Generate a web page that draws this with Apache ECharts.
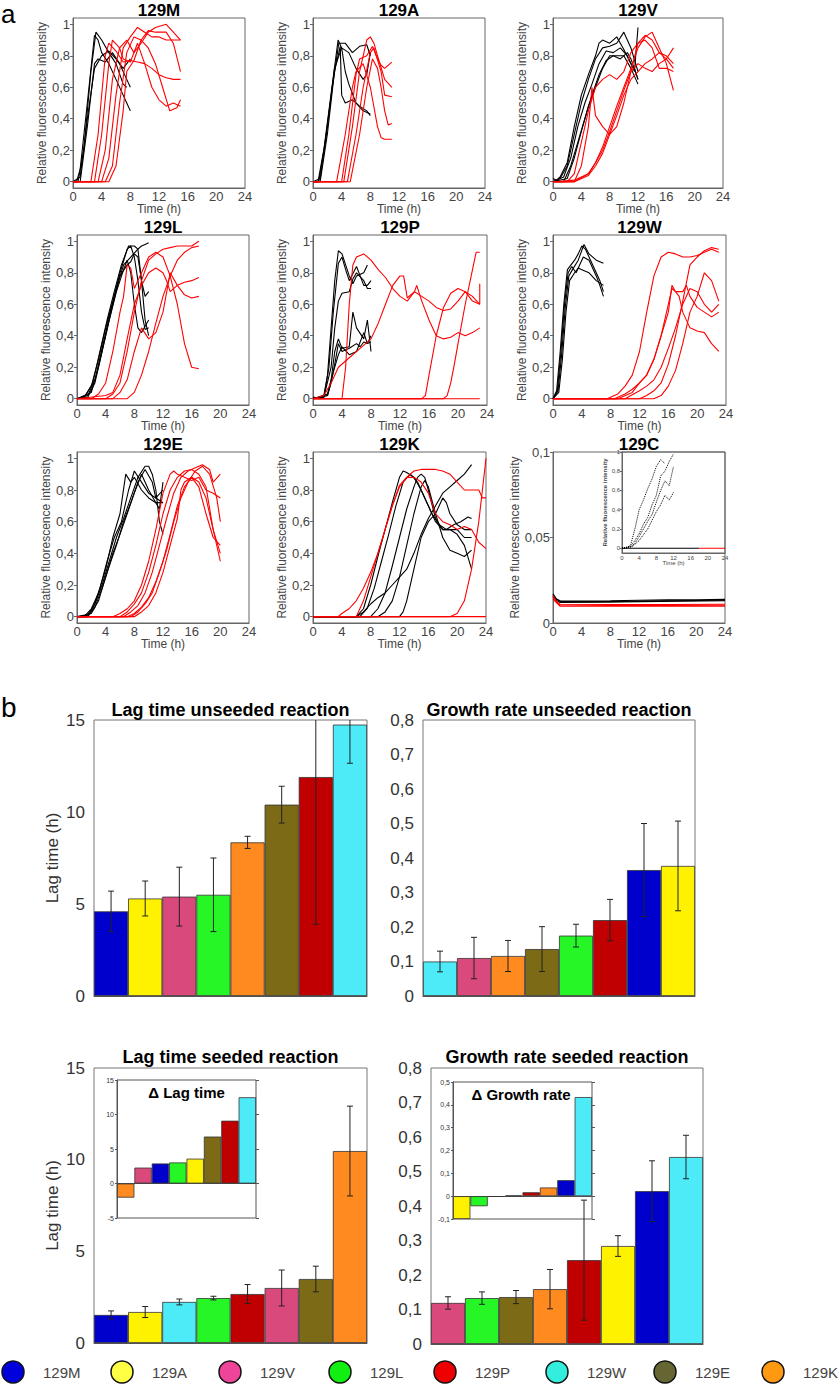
<!DOCTYPE html>
<html><head><meta charset="utf-8">
<script src="https://cdn.jsdelivr.net/npm/echarts@6/dist/echarts.min.js"></script>
<style>html,body{margin:0;padding:0;background:#fff}#c{width:840px;height:1385px}</style>
</head><body><div id="c"></div>
<script>
// ---------------- DATA: part a (time h, relative fluorescence) ----------------
const curves129M_black = [
 [[0,0],[0.5,0],[1,0.08],[2,0.5],[3,0.93],[3.5,0.9],[4,0.82],[5,0.75],[6,0.65],[7,0.55],[7.5,0.5],[8,0.45]],
 [[0,0],[0.7,0],[1.5,0.2],[2.5,0.7],[3.2,0.95],[4,0.9],[5,0.82],[6,0.75],[7,0.62],[7.5,0.6]],
 [[0,0],[1,0],[2,0.35],[3,0.75],[3.5,0.78],[4.5,0.76],[5.5,0.82],[6.5,0.75],[7.5,0.65],[8,0.6]],
 [[0,0],[1,0.03],[2,0.4],[3,0.72],[4,0.8],[5,0.83],[6,0.78],[7,0.72],[8,0.78]]
];
const curves129M_red = [
 [[0,0],[2.5,0],[3.5,0.3],[4.5,0.8],[5,0.88],[6,0.83],[7,0.76],[8,0.77],[9,0.76],[10,0.75],[11,0.72],[12,0.68],[13,0.66],[14,0.65],[15,0.65]],
 [[0,0],[3,0],[4,0.3],[5,0.75],[5.5,0.9],[6.5,0.85],[7,0.78],[8,0.76],[9,0.88],[10,0.75],[11,0.6],[12,0.52],[13,0.48],[14,0.5],[15,0.48]],
 [[0,0],[3.5,0],[4.5,0.2],[5.5,0.65],[6.5,0.85],[7.5,0.9],[8.5,0.82],[9.5,0.88],[10.5,0.95],[11.5,0.98],[13,1.0],[14,0.95],[15,0.9]],
 [[0,0],[4,0],[5,0.15],[6,0.55],[7,0.85],[8,0.92],[9,0.98],[10,0.95],[11,0.92],[12,0.92],[13,0.9],[14,0.9],[15,0.9]],
 [[0,0],[4.5,0],[5.5,0.1],[6.5,0.5],[7.5,0.82],[8.5,0.92],[9.5,0.9],[10.5,0.85],[11.5,0.75],[12.5,0.6],[13.5,0.45],[14.5,0.47],[15,0.52]],
 [[0,0],[5,0],[6,0.1],[7,0.45],[7.5,0.7],[8.5,0.77],[9.5,0.9],[10.5,0.96],[11.5,0.95],[13,0.95],[14,0.88],[15,0.7]]
];
const curves129A_black = [
 [[0,0],[0.7,0],[1.5,0.2],[2.5,0.55],[3.5,0.9],[4,0.85],[4.5,0.7],[5,0.62],[6,0.5],[7,0.45],[8,0.43]],
 [[0,0],[0.8,0],[1.7,0.25],[2.7,0.6],[3.6,0.88],[4.5,0.88],[5.5,0.82],[6.5,0.86],[7.5,0.87],[8,0.8]],
 [[0,0],[1,0],[2,0.3],[3,0.7],[3.8,0.86],[4,0.55],[4.5,0.5],[5.5,0.52],[6.5,0.48],[7.5,0.45],[8,0.42]],
 [[0,0],[1,0.02],[2,0.35],[3,0.72],[4,0.85],[5,0.82],[6,0.72],[7,0.65],[7.5,0.68],[8,0.82]]
];
const curves129A_red = [
 [[0,0],[3.3,0],[4.5,0.3],[5.5,0.6],[6,0.7],[7,0.75],[8,0.6],[9,0.35],[9.5,0.28],[10,0.27],[11,0.27]],
 [[0,0],[4,0],[5,0.3],[6,0.68],[6.5,0.78],[7.5,0.8],[8.3,0.86],[9,0.78],[9.5,0.74],[10,0.72],[11,0.76]],
 [[0,0],[4.3,0],[5.5,0.35],[6.5,0.7],[7.5,0.9],[8,0.92],[8.5,0.88],[9,0.8],[10,0.65],[11,0.6]],
 [[0,0],[4.8,0],[6,0.3],[7,0.6],[8,0.82],[8.5,0.85],[9.5,0.7],[10,0.55],[11,0.54]],
 [[0,0],[5.2,0],[6.5,0.3],[7.5,0.6],[8.3,0.78],[9,0.72],[9.5,0.6],[10,0.45],[10.5,0.36],[11,0.37]]
];
const curves129V_black = [
 [[0,0.02],[0.5,0.01],[1,0.03],[2,0.12],[3,0.35],[4,0.55],[5,0.68],[6,0.8],[6.5,0.88],[7,0.9],[8,0.88],[9,0.92],[10,0.84],[11,0.75],[11.5,0.72],[12,0.65]],
 [[0,0],[1,0.02],[2,0.1],[3,0.3],[4,0.5],[5,0.65],[6,0.78],[7,0.85],[8,0.86],[9,0.88],[10,0.95],[11,0.85],[12,0.7]],
 [[0,0],[1.5,0.03],[2.5,0.15],[3.5,0.35],[4.5,0.5],[5.5,0.62],[6.5,0.75],[7.5,0.83],[8.5,0.82],[9.5,0.85],[10.5,0.8],[11.5,0.7],[12,0.98]],
 [[0,0],[1.5,0],[2.5,0.1],[3.5,0.25],[4.5,0.4],[5.5,0.55],[6.5,0.68],[7.5,0.77],[8.5,0.8],[9.5,0.78],[10.5,0.82],[11,0.78],[12,0.65]],
 [[0,0],[2,0.02],[3,0.15],[4,0.32],[5,0.48],[6,0.6],[7,0.72],[8,0.8],[9,0.8],[10,0.8],[11,0.72],[12,0.62]]
];
const curves129V_red = [
 [[0,0],[2,0],[3,0.05],[4,0.25],[5,0.45],[6,0.6],[7,0.65],[8,0.68],[9,0.65],[10,0.7],[11,0.82],[12,0.88],[13,0.93],[14,0.9],[15,0.82],[16,0.78],[17,0.85]],
 [[0,0],[3,0],[4,0.1],[5,0.35],[5.5,0.6],[6,0.42],[7,0.35],[8,0.3],[9,0.35],[10,0.5],[11,0.7],[12,0.88],[13,0.9],[14,0.85],[15,0.72],[16,0.72],[17,0.7]],
 [[0,0],[3,0.01],[5,0.05],[6,0.12],[7,0.22],[8,0.35],[9,0.48],[10,0.6],[11,0.72],[12,0.85],[13,0.92],[14,0.95],[15,0.85],[16,0.75],[17,0.58]],
 [[0,0],[3,0],[5,0.05],[6,0.12],[7,0.2],[8,0.32],[9,0.45],[10,0.58],[11,0.7],[12,0.75],[13,0.72],[14,0.7],[15,0.75],[16,0.78],[17,0.72]],
 [[0,0],[3,0],[5,0.04],[6,0.1],[7,0.18],[8,0.3],[9,0.42],[10,0.55],[11,0.65],[12,0.7],[13,0.75],[14,0.78],[15,0.82],[16,0.8],[17,0.75]]
];
const curves129L_black = [
 [[0,0],[1,0.01],[2,0.08],[3,0.25],[4,0.45],[5,0.62],[6,0.8],[7,0.95],[7.5,0.97],[8,0.9],[8.5,0.75],[9,0.55],[9.5,0.44],[10,0.45]],
 [[0,0],[1.2,0.02],[2.2,0.1],[3.2,0.3],[4.2,0.5],[5.2,0.68],[6.2,0.85],[7.2,0.97],[8,0.97],[8.5,0.95],[9,0.75],[9.5,0.5],[10,0.4]],
 [[0,0],[1.5,0.02],[2.5,0.12],[3.5,0.32],[4.5,0.52],[5.5,0.7],[6.5,0.85],[7.5,0.9],[8.5,0.95],[9,0.97],[9.5,0.98],[10,0.99]],
 [[0,0],[1.5,0.01],[2.5,0.1],[3.5,0.3],[4.5,0.5],[5.5,0.68],[6.5,0.82],[7,0.88],[7.5,0.8],[8,0.6],[8.5,0.45],[9,0.42],[10,0.5]],
 [[0,0],[2,0.04],[3,0.2],[4,0.4],[5,0.6],[6,0.78],[7,0.85],[7.5,0.87],[8,0.92],[8.5,0.9],[9,0.75],[9.5,0.65],[10,0.68]]
];
const curves129L_red = [
 [[0,0],[2,0],[3,0.03],[4,0.1],[5,0.3],[6,0.55],[6.5,0.65],[7,0.85],[7.5,0.83],[8,0.7],[9,0.8],[10,0.9],[11,0.93],[12,0.9],[13,0.78],[14,0.6],[15,0.35],[16,0.2],[17,0.19]],
 [[0,0],[4,0],[5,0.03],[6,0.1],[7,0.3],[8,0.55],[9,0.75],[10,0.88],[11,0.92],[12,0.95],[13,0.96],[14,0.97],[15,0.97],[16,0.97],[17,1.0]],
 [[0,0],[4,0.02],[5,0.04],[6,0.15],[7,0.38],[8,0.6],[9,0.72],[10,0.8],[11,0.83],[12,0.8],[12.5,0.75],[13,0.68],[14,0.72],[15,0.74],[16,0.75],[17,0.77]],
 [[0,0],[5,0],[6,0.04],[7,0.12],[8,0.3],[9,0.45],[10,0.38],[11,0.42],[12,0.55],[13,0.8],[14,0.72],[15,0.66],[16,0.64],[17,0.65]],
 [[0,0],[7,0],[8,0.04],[9,0.15],[10,0.3],[11,0.48],[12,0.65],[13,0.78],[14,0.88],[15,0.93],[16,0.96],[17,0.97]]
];
const curves129P_black = [
 [[0,0.01],[1,0],[1.5,0.02],[2,0.15],[2.5,0.45],[3,0.75],[3.5,0.94],[4,0.92],[4.5,0.85],[5,0.78],[5.5,0.73],[6,0.78],[7,0.8],[7.5,0.85]],
 [[0,0],[1.5,0.01],[2.2,0.2],[2.8,0.55],[3.5,0.86],[4,0.9],[4.5,0.82],[5,0.75],[6,0.84],[6.5,0.78],[7,0.72],[7.5,0.72],[8,0.75]],
 [[0,0],[1.5,0.01],[2.5,0.2],[3,0.45],[3.5,0.62],[4,0.67],[5,0.68],[5.5,0.76],[6,0.8],[7,0.75],[7.5,0.7],[8,0.7]],
 [[0,0],[2,0.03],[2.5,0.12],[3,0.3],[3.5,0.38],[4,0.32],[5,0.33],[5.5,0.55],[6,0.45],[7,0.38],[7.5,0.5],[8,0.3]],
 [[0,0],[2,0.02],[2.5,0.1],[3,0.22],[3.5,0.35],[4,0.3],[5,0.32],[6,0.35],[6.5,0.33],[7,0.36],[7.5,0.35],[8,0.4]],
 [[0,0],[2,0.02],[2.5,0.12],[3,0.2],[3.5,0.28],[4,0.33],[5,0.28],[6,0.3],[7,0.42],[7.5,0.35],[8,0.36]]
];
const curves129P_red = [
 [[0,0],[4,0],[4.5,0.2],[5,0.6],[5.5,0.85],[6,0.9],[7,0.92],[8,0.88],[9,0.82],[10,0.77],[11,0.7],[12,0.65],[13,0.62],[14,0.68],[15,0.65],[16,0.62],[17,0.58],[18,0.56],[19,0.57],[20,0.62],[21,0.68],[22,0.62],[23,0.6]],
 [[0,0],[1.5,0.02],[2.5,0.1],[3.5,0.2],[5,0.26],[6.5,0.32],[8,0.38],[9,0.48],[10,0.6],[11,0.72],[12,0.78],[12.5,0.78],[13,0.64],[14,0.68],[14.3,0.72],[15,0.62],[16,0.5],[17,0.4],[18,0.38],[19,0.39],[20,0.42],[21,0.4],[22,0.42],[23,0.45]],
 [[0,0],[15,0],[15.5,0.02],[16,0.15],[17,0.4],[18,0.58],[19,0.67],[20,0.7],[21,0.68],[22,0.65],[23,0.6],[23,0.73]],
 [[0,0],[18,0],[18.5,0.02],[19,0.1],[19.5,0.22],[20,0.35],[21,0.6],[22,0.82],[22.5,0.93],[23,0.93]],
 [[0,0],[23,0]]
];
const curves129W_black = [
 [[0,0],[0.5,0.05],[1,0.3],[1.5,0.6],[2,0.82],[2.5,0.85],[3,0.88],[3.5,0.92],[4,0.97],[4.5,0.95],[5,0.9],[6,0.8],[6.5,0.75],[7,0.68]],
 [[0,0],[0.6,0.05],[1.1,0.3],[1.6,0.6],[2.1,0.8],[2.6,0.84],[3.2,0.8],[3.7,0.85],[4.2,0.9],[5,0.88],[6,0.78],[6.5,0.72],[7,0.65]],
 [[0,0],[0.7,0.05],[1.2,0.28],[1.7,0.58],[2.2,0.78],[2.7,0.82],[3.5,0.88],[4.3,0.98],[5,0.92],[6,0.88],[7,0.86]],
 [[0,0],[0.8,0.04],[1.3,0.25],[1.8,0.55],[2.3,0.75],[3,0.8],[3.5,0.83],[4,0.82],[5,0.8],[6,0.75],[7,0.72]]
];
const curves129W_red = [
 [[0,0],[7.5,0],[9,0.03],[10,0.08],[11,0.15],[12,0.3],[13,0.55],[14,0.78],[15,0.9],[16,0.93],[17,0.92],[18,0.9],[19,0.9],[20,0.91],[21,0.93],[22,0.95],[23,0.93]],
 [[0,0],[8.5,0],[10,0.03],[11,0.06],[12,0.1],[13,0.15],[14,0.25],[15,0.4],[16,0.6],[16.5,0.7],[17,0.68],[17.5,0.65],[18,0.55],[19,0.45],[20,0.43],[21,0.42],[22,0.35],[23,0.3]],
 [[0,0],[9,0],[11,0.04],[12,0.1],[13,0.15],[14,0.25],[15,0.4],[16,0.55],[16.5,0.72],[17,0.68],[18,0.68],[18.5,0.72],[19,0.65],[20,0.58],[21,0.55],[22,0.52],[23,0.55]],
 [[0,0],[10,0],[12,0.05],[13,0.08],[14,0.12],[15,0.2],[16,0.32],[17,0.45],[18,0.6],[19,0.7],[20,0.68],[21,0.6],[22,0.55],[23,0.6]],
 [[0,0],[12,0],[13,0.02],[14,0.05],[15,0.1],[16,0.22],[17,0.4],[18,0.62],[19,0.85],[20,0.9],[21,0.94],[22,0.96],[23,0.95]],
 [[0,0],[14,0],[15,0.02],[16,0.08],[17,0.18],[18,0.35],[19,0.55],[20,0.65],[21,0.8],[22,0.75],[23,0.62]]
];
const curves129E_black = [
 [[0,0],[1,0],[2,0.05],[3,0.15],[4,0.3],[5,0.5],[6,0.65],[6.8,0.9],[7.5,0.85],[8,0.88],[9,0.8],[10,0.75],[11,0.72],[12,0.72]],
 [[0,0],[1.2,0],[2.2,0.05],[3.2,0.18],[4.2,0.35],[5.2,0.5],[6.2,0.6],[7.2,0.8],[8,0.92],[9,0.85],[10,0.78],[11,0.75],[12,0.8]],
 [[0,0],[1.5,0.01],[2.5,0.08],[3.5,0.2],[4.5,0.35],[5.5,0.5],[6.5,0.62],[7.5,0.75],[8.5,0.88],[9.5,0.95],[10,0.95],[10.5,0.9],[11,0.8],[11.5,0.6],[12,0.52]],
 [[0,0],[1.5,0],[2.5,0.06],[3.5,0.18],[4.5,0.32],[5.5,0.45],[6.5,0.6],[7.5,0.72],[8.5,0.85],[9.5,0.93],[10.5,0.85],[11,0.75],[12,0.72]],
 [[0,0],[2,0.02],[3,0.1],[4,0.25],[5,0.4],[6,0.52],[7,0.65],[8,0.78],[9,0.9],[10,0.8],[11,0.72],[11.5,0.68],[12,0.85]]
];
const curves129E_red = [
 [[0,0],[5,0],[6,0.02],[7,0.05],[8,0.1],[9,0.2],[10,0.35],[11,0.55],[12,0.78],[13,0.9],[13.5,0.92],[14,0.9],[15,0.88],[16,0.86],[17,0.88],[18,0.8],[19,0.78],[20,0.75]],
 [[0,0],[6,0],[7,0.03],[8,0.08],[9,0.15],[10,0.28],[11,0.45],[12,0.65],[13,0.8],[14,0.88],[15,0.92],[16,0.93],[17,0.9],[18,0.82],[19,0.55],[20,0.4]],
 [[0,0],[6.5,0],[7.5,0.03],[8.5,0.07],[9.5,0.15],[10.5,0.28],[11.5,0.45],[12.5,0.62],[13.5,0.78],[14.5,0.88],[15.5,0.92],[16.5,0.94],[17.5,0.96],[18.5,0.93],[19,0.85],[20,0.9]],
 [[0,0],[7,0],[8,0.02],[9,0.06],[10,0.12],[11,0.22],[12,0.35],[13,0.52],[14,0.7],[15,0.82],[16,0.88],[17,0.85],[18,0.75],[19,0.55],[20,0.35]],
 [[0,0],[7.5,0],[8.5,0.03],[9.5,0.08],[10.5,0.15],[11.5,0.28],[12.5,0.42],[13.5,0.6],[14.5,0.75],[15.5,0.85],[16.5,0.92],[17.5,0.95],[18.5,0.9],[19.5,0.75],[20,0.6]],
 [[0,0],[8,0],[9,0.03],[10,0.07],[11,0.15],[12,0.28],[13,0.45],[14,0.62],[14.5,0.8],[15,0.85],[16,0.88],[17,0.82],[18,0.65],[19,0.5],[20,0.45]]
];
const curves129K_black = [
 [[0,0],[6,0],[7,0.05],[8,0.2],[9,0.38],[10,0.55],[11,0.72],[12,0.88],[12.5,0.92],[13,0.91],[14,0.88],[15,0.8],[16,0.7],[17,0.6],[18,0.55],[19,0.55],[20,0.55],[21,0.5],[22,0.5]],
 [[0,0],[6.5,0],[7.5,0.05],[8.5,0.18],[9.5,0.35],[10.5,0.52],[11.5,0.7],[12.5,0.85],[13.5,0.9],[14.5,0.85],[15.5,0.75],[16.5,0.65],[17.5,0.58],[18.5,0.55],[19.5,0.58],[20.5,0.6],[21.5,0.63],[22,0.62]],
 [[0,0],[8,0],[9,0.05],[10,0.15],[11,0.32],[12,0.5],[13,0.68],[14,0.82],[14.5,0.88],[15,0.9],[15.5,0.88],[16,0.8],[17,0.62],[18,0.55],[19,0.55],[20,0.52],[21,0.45],[22,0.3]],
 [[0,0],[9,0],[10,0.03],[11,0.1],[12,0.25],[13,0.45],[14,0.65],[15,0.82],[15.5,0.86],[16,0.82],[17,0.65],[18,0.5],[19,0.42],[20,0.4],[21,0.38],[22,0.42]],
 [[0,0],[6,0],[7,0.03],[8,0.08],[9,0.12],[10,0.15],[11,0.2],[12,0.25],[13,0.3],[14,0.4],[15,0.52],[16,0.62],[17,0.7],[18,0.78],[19,0.82],[20,0.86],[21,0.9],[22,0.96]],
 [[0,0],[12,0],[12.5,0.03],[13,0.1],[14,0.3],[15,0.5],[16,0.6],[17,0.65],[18,0.75],[18.5,0.72],[19,0.65],[20,0.58],[21,0.55],[22,0.55]]
];
const curves129K_red = [
 [[0,0],[3.5,0],[4,0.02],[5,0.05],[6,0.1],[7,0.18],[8,0.28],[9,0.4],[10,0.55],[11,0.7],[12,0.83],[13,0.88],[14,0.92],[15,0.93],[16,0.93],[17,0.93],[18,0.92],[19,0.9],[20,0.85],[21,0.8],[22,0.8],[23,0.8],[23.5,0.75],[24,0.75]],
 [[0,0],[6,0],[7,0.1],[8,0.25],[9,0.4],[10,0.55],[11,0.7],[12,0.82],[13,0.88],[14,0.88],[15,0.85],[16,0.78],[17,0.65],[18,0.6],[19,0.58],[20,0.55],[21,0.57],[22,0.55],[23,0.47],[24,0.43]],
 [[0,0],[19,0],[20,0.02],[21,0.1],[22,0.3],[23,0.6],[23.5,0.8],[24,1.0]],
 [[0,0],[24,0]]
];
const curves129C_black = [
 [[0,0.017],[0.5,0.014],[1,0.013],[4,0.0128],[8,0.013],[12,0.0133],[16,0.0135],[20,0.0136],[24,0.0138]],
 [[0,0.016],[0.5,0.013],[1,0.012],[6,0.0122],[12,0.0125],[18,0.0128],[24,0.013]],
 [[0,0.015],[1,0.0125],[8,0.0125],[16,0.013],[24,0.0133]]
];
const curves129C_red = [
 [[0,0.016],[0.5,0.012],[1,0.011],[8,0.0108],[16,0.0108],[24,0.011]],
 [[0,0.015],[1,0.0105],[8,0.0102],[16,0.0103],[24,0.0104]],
 [[0,0.014],[1,0.0098],[12,0.0098],[24,0.0098]]
];
const inset129C_black = [
 [[0,0],[1,0],[2,0.03],[3,0.2],[4,0.4],[5,0.5],[6,0.62],[7,0.72],[8,0.85],[9,0.92],[10,0.88]],
 [[0,0],[2,0.02],[3,0.08],[4,0.15],[5,0.25],[6,0.32],[7,0.45],[8,0.55],[9,0.75],[10,0.8],[11,0.9],[12,0.98]],
 [[0,0],[2,0.01],[3,0.05],[4,0.12],[5,0.2],[6,0.28],[7,0.35],[8,0.48],[9,0.6],[10,0.7],[11,0.65],[12,0.85]],
 [[0,0],[2.5,0.02],[4,0.08],[6,0.2],[8,0.38],[9,0.45],[10,0.55],[11,0.5],[12,0.58]]
];
const inset129C_flatBlack = [[0,0],[18,0]];
const inset129C_flatRed = [[18,0],[24,0]];

// ---------------- DATA: part b ----------------
const lagUnseededCats = ['129M','129A','129V','129L','129K','129E','129P','129W'];
const lagUnseededVals = [4.6, 5.3, 5.4, 5.5, 8.35, 10.4, 11.9, 14.75];
const lagUnseededErr  = [1.1, 0.95, 1.6, 2.0, 0.33, 1.0, 8.0, 2.1];

const growthUnseededCats = ['129W','129V','129K','129E','129L','129P','129M','129A'];
const growthUnseededVals = [0.1, 0.11, 0.116, 0.136, 0.175, 0.22, 0.365, 0.377];
const growthUnseededErr  = [0.03, 0.06, 0.045, 0.065, 0.033, 0.06, 0.135, 0.13];

const lagSeededCats = ['129M','129A','129W','129L','129P','129V','129E','129K'];
const lagSeededVals = [1.53, 1.69, 2.24, 2.45, 2.67, 3.0, 3.49, 10.47];
const lagSeededErr  = [0.22, 0.3, 0.16, 0.1, 0.52, 0.98, 0.7, 2.45];

const growthSeededCats = ['129V','129L','129E','129K','129P','129A','129M','129W'];
const growthSeededVals = [0.119, 0.133, 0.136, 0.159, 0.243, 0.284, 0.443, 0.542];
const growthSeededErr  = [0.018, 0.018, 0.019, 0.057, 0.174, 0.03, 0.088, 0.063];

const deltaLagCats = ['129K','129V','129M','129L','129A','129E','129P','129W'];
const deltaLagVals = [-2.05, 2.3, 2.9, 3.05, 3.6, 6.8, 9.1, 12.5];

const deltaGrowthCats = ['129A','129L','129E','129V','129P','129K','129M','129W'];
const deltaGrowthVals = [-0.1, -0.044, -0.003, 0.003, 0.017, 0.038, 0.07, 0.434];

const legendStrains = ['129M','129A','129V','129L','129P','129W','129E','129K'];

// ---------------- STYLES ----------------
const FONT = '"Liberation Sans", Arial, sans-serif';
const barColor = {'129M':'#0000cc','129A':'#fff200','129V':'#d9497b','129L':'#26f526','129K':'#ff8a1f','129E':'#7d6a17','129P':'#c00000','129W':'#4deaf7'};
const legendColor = {'129M':'#0000dd','129A':'#ffff44','129V':'#ee4499','129L':'#11ee11','129P':'#ee0000','129W':'#33eedd','129E':'#666633','129K':'#ff9911'};
const fmtComma = v => Math.abs(v) < 1e-9 ? '0' : String(+v.toFixed(3)).replace('.', ',');

const grid = [], xAxis = [], yAxis = [], series = [], graphic = [];

function addText(text, x, y, size, opts) {
  opts = opts || {};
  graphic.push({type:'text', x:x, y:y, z:100, silent:true, style:{text:text, fontSize:size, fontFamily:FONT,
    fontWeight:opts.bold?'bold':'normal', fill:opts.fill||'#000', textAlign:opts.align||'center', textVerticalAlign:'middle'}});
}

// ---------------- part a panels ----------------
const stdTicks = [0,0.2,0.4,0.6,0.8,1];
const panels = [
  {title:'129M', black:curves129M_black, red:curves129M_red, left:73, top:18, width:172, height:170},
  {title:'129A', black:curves129A_black, red:curves129A_red, left:313, top:18, width:172, height:170},
  {title:'129V', black:curves129V_black, red:curves129V_red, left:553, top:18, width:170, height:170},
  {title:'129L', black:curves129L_black, red:curves129L_red, left:77, top:235, width:172, height:170},
  {title:'129P', black:curves129P_black, red:curves129P_red, left:313, top:235, width:174, height:170},
  {title:'129W', black:curves129W_black, red:curves129W_red, left:553, top:235, width:173, height:170},
  {title:'129E', black:curves129E_black, red:curves129E_red, left:77, top:452, width:172, height:171},
  {title:'129K', black:curves129K_black, red:curves129K_red, left:313, top:452, width:173, height:171},
  {title:'129C', black:curves129C_black, red:curves129C_red, left:553, top:452, width:172, height:171, yMin:0, yMax:0.1, ticks:[0,0.05,0.1]}
];

function addLineGrid(p, small) {
  const gi = grid.length;
  const fs = small ? 6 : 13;
  grid.push({left:p.left, top:p.top, width:p.width, height:p.height, show:true, borderColor:'#666', borderWidth:1});
  xAxis.push({type:'value', gridIndex:gi, min:0, max:24, interval:4,
    axisLine:{show:true, onZero:false, lineStyle:{color:'#666'}}, axisTick:{show:false},
    axisLabel:{fontSize:fs, color:'#444', margin:small?2:2, fontFamily:FONT}, splitLine:{show:false},
    name:'Time (h)', nameLocation:'middle', nameGap:small?7:15, nameMoveOverlap:false,
    nameTextStyle:{fontSize:small?fs:12, color:'#444', fontFamily:FONT}});
  const yMin = p.yMin !== undefined ? p.yMin : -0.04;
  const yMax = p.yMax !== undefined ? p.yMax : 1.04;
  const ticks = p.ticks || stdTicks;
  yAxis.push({type:'value', gridIndex:gi, min:yMin, max:yMax,
    axisLine:{show:true, onZero:false, lineStyle:{color:'#666'}},
    axisTick:{show:true, length:small?2:3, customValues:ticks, lineStyle:{color:'#666'}},
    axisLabel:{customValues:ticks, formatter:fmtComma, fontSize:fs, color:'#444', margin:small?2:3, fontFamily:FONT},
    splitLine:{show:false},
    name:'Relative fluorescence intensity', nameLocation:'middle', nameGap:small?14:22,
    nameTextStyle:{fontSize:small?6:12, color:'#444', fontFamily:FONT, fontWeight:small?'bold':'normal'}});
  return gi;
}
function addCurve(gi, data, color, dotted) {
  series.push({type:'line', xAxisIndex:gi, yAxisIndex:gi, data:data, symbol:'none', silent:true, animation:false,
    lineStyle:{color:color, width:dotted?1:1.1, type:dotted?'dotted':'solid'}, z:dotted?3:2});
}

panels.forEach(p => {
  const gi = addLineGrid(p, false);
  p.black.forEach(c => addCurve(gi, c, '#000'));
  p.red.forEach(c => addCurve(gi, c, '#ff0000'));
  addText(p.title, p.left + p.width/2, p.top - 8, 17, {bold:true});
});
// 129C inset
{
  const gi = addLineGrid({left:622, top:452, width:103, height:101, yMin:-0.05, yMax:1.0}, true);
  inset129C_black.forEach(c => addCurve(gi, c, '#000', true));
  addCurve(gi, inset129C_flatBlack, '#000');
  addCurve(gi, inset129C_flatRed, '#ff0000');
}
addText('a', 1, 14, 26, {align:'left'});
addText('b', 1, 707, 28, {align:'left'});

// ---------------- part b bars ----------------
function errRender(params, api) {
  const i = api.value(0), v = api.value(1), e = api.value(2);
  const cs = params.coordSys;
  const top = api.coord([i, v + e]), bot = api.coord([i, v - e]);
  let yt = top[1], yb = bot[1];
  const clipped = yt < cs.y;
  if (clipped) yt = cs.y;
  if (yb > cs.y + cs.height) yb = cs.y + cs.height;
  const x = top[0], w = 3;
  const children = [{type:'line', shape:{x1:x, y1:yt, x2:x, y2:yb}, style:{stroke:'#222', lineWidth:1}}];
  if (!clipped) children.push({type:'line', shape:{x1:x-w, y1:yt, x2:x+w, y2:yt}, style:{stroke:'#222', lineWidth:1}});
  children.push({type:'line', shape:{x1:x-w, y1:yb, x2:x+w, y2:yb}, style:{stroke:'#222', lineWidth:1}});
  return {type:'group', children:children};
}

function addBarChart(cfg) {
  const gi = grid.length;
  grid.push({left:cfg.left, top:cfg.top, width:cfg.width, height:cfg.height, show:true, borderColor:cfg.inset?'#555':'#777', borderWidth:1});
  xAxis.push({type:'category', gridIndex:gi, data:cfg.cats, boundaryGap:true,
    axisLine:{show:true, onZero:!!cfg.inset, lineStyle:{color:'#555'}}, axisTick:{show:false}, axisLabel:{show:false}, splitLine:{show:false}});
  const yi = yAxis.length;
  yAxis.push({type:'value', gridIndex:gi, min:cfg.min, max:cfg.max, interval:cfg.interval,
    axisLine:{show:!!cfg.inset, lineStyle:{color:'#555'}},
    axisTick:{show:!!cfg.inset, length:2, lineStyle:{color:'#555'}},
    axisLabel:{formatter:fmtComma, fontSize:cfg.inset?7:17, color:'#333', margin:cfg.inset?3:9, fontFamily:FONT},
    splitLine:{show:false},
    name:cfg.yName||'', nameLocation:'middle', nameGap:33, nameTextStyle:{fontSize:17, color:'#333', fontFamily:FONT}});
  if (cfg.inset) {
    yAxis.push({type:'value', gridIndex:gi, position:'right', min:cfg.min, max:cfg.max, interval:cfg.interval,
      axisLine:{show:false}, axisTick:{show:true, length:3, lineStyle:{color:'#555'}}, axisLabel:{show:false}, splitLine:{show:false}});
  }
  series.push({type:'bar', xAxisIndex:gi, yAxisIndex:yi, barCategoryGap:'0%', animation:false, silent:true,
    data: cfg.vals.map((v, i) => ({value:v, itemStyle:{color:barColor[cfg.cats[i]], borderColor:'#333', borderWidth:0.8}}))});
  if (cfg.errs) {
    series.push({type:'custom', xAxisIndex:gi, yAxisIndex:yi, renderItem:errRender, animation:false, silent:true, z:5,
      data: cfg.vals.map((v, i) => [i, v, cfg.errs[i]])});
  }
  if (cfg.title) addText(cfg.title, cfg.titleX !== undefined ? cfg.titleX : cfg.left + cfg.width/2, cfg.titleY, cfg.titleSize || 18, {bold:true});
}

addBarChart({cats:lagUnseededCats, vals:lagUnseededVals, errs:lagUnseededErr, left:94, top:720, width:273, height:276,
  min:0, max:15, interval:5, yName:'Lag time (h)', title:'Lag time unseeded reaction', titleY:710});
addBarChart({cats:growthUnseededCats, vals:growthUnseededVals, errs:growthUnseededErr, left:423, top:720, width:272, height:276,
  min:0, max:0.8, interval:0.1, title:'Growth rate unseeded reaction', titleY:710});
addBarChart({cats:lagSeededCats, vals:lagSeededVals, errs:lagSeededErr, left:94, top:1068, width:273, height:275,
  min:0, max:15, interval:5, yName:'Lag time (h)', title:'Lag time seeded reaction', titleY:1057});
addBarChart({cats:growthSeededCats, vals:growthSeededVals, errs:growthSeededErr, left:431, top:1068, width:272, height:276,
  min:0, max:0.8, interval:0.1, title:'Growth rate seeded reaction', titleY:1057});
addBarChart({cats:deltaLagCats, vals:deltaLagVals, left:117, top:1080, width:139, height:138,
  min:-5, max:15, interval:5, inset:true, title:'Δ Lag time', titleY:1092, titleSize:15});
addBarChart({cats:deltaGrowthCats, vals:deltaGrowthVals, left:453, top:1082, width:139, height:137,
  min:-0.1, max:0.5, interval:0.1, inset:true, title:'Δ Growth rate', titleX:521, titleY:1094, titleSize:15});

// ---------------- legend ----------------
const legendCx = [13, 122, 230, 340, 445, 557, 665, 773];
legendStrains.forEach((s, i) => {
  graphic.push({type:'circle', z:100, silent:true, shape:{cx:legendCx[i], cy:1372, r:11},
    style:{fill:legendColor[s], stroke:'#111', lineWidth:1.5}});
  addText(s, legendCx[i] + 30, 1372, 15, {align:'left', fill:'#444'});
});

const chart = echarts.init(document.getElementById('c'), null, {renderer:'svg', width:840, height:1385});
chart.setOption({animation:false, backgroundColor:'#fff', textStyle:{fontFamily:FONT},
  grid:grid, xAxis:xAxis, yAxis:yAxis, series:series, graphic:graphic});
</script></body></html>
